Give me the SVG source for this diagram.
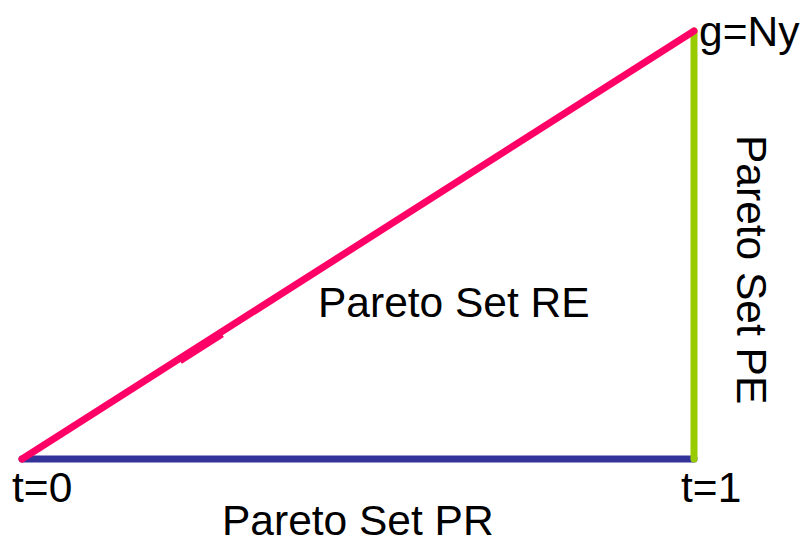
<svg xmlns="http://www.w3.org/2000/svg" width="812" height="544" viewBox="0 0 812 544">
<style>
text{font-family:"Liberation Sans",Arial,sans-serif;font-size:42.5px;fill:#000}
.e{stroke-width:7;stroke-linecap:round;fill:none}
</style>
<rect width="812" height="544" fill="#fff"/>
<g id="connectors">
<line class="e" x1="22" y1="459" x2="694" y2="459" stroke="#333399"/>
<line class="e" x1="694" y1="459" x2="694" y2="31" stroke="#99CC00"/>
<line class="e" x1="22" y1="459" x2="694" y2="31" stroke="#FF0066"/>
<line x1="180" y1="360.9" x2="222" y2="334.1" stroke="#FF0066" stroke-width="7"/>
</g>
<g id="label-t0"><text x="12" y="502">t=0</text></g>
<g id="label-t1"><text x="681" y="502">t=1</text></g>
<g id="label-g"><text x="699" y="46">g=Ny</text></g>
<g id="label-RE"><text x="318" y="317">Pareto Set RE</text></g>
<g id="label-PR"><text x="222" y="535">Pareto Set PR</text></g>
<g id="label-PE"><text transform="translate(737,135) rotate(90)">Pareto Set PE</text></g>
</svg>
